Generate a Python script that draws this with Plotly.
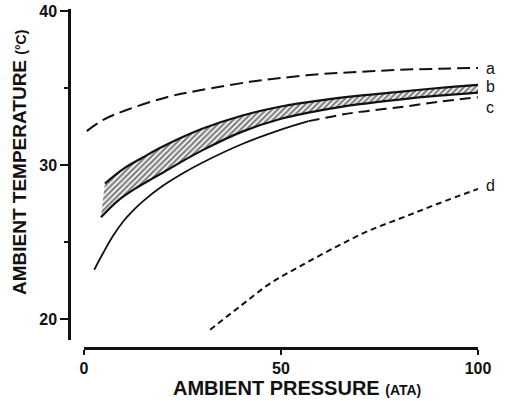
import plotly.graph_objects as go

# ---- data ----
a_p = [0.7, 5, 10.8, 21, 29.4, 42.1, 50, 60, 70, 80, 90, 100]
a_T = [32.2, 32.95, 33.57, 34.4, 34.85, 35.4, 35.65, 35.9, 36.05, 36.18, 36.25, 36.3]

b_top_p = [5.3, 10, 15, 20, 30, 40, 50, 60, 70, 80, 90, 100]
b_top_T = [28.8, 29.75, 30.5, 31.2, 32.35, 33.2, 33.8, 34.2, 34.5, 34.75, 35.0, 35.2]
b_bot_p = [4.3, 8.7, 12.9, 17.2, 20, 25, 30, 40, 50, 60, 70, 80, 90, 100]
b_bot_T = [26.6, 27.7, 28.45, 29.1, 29.5, 30.25, 30.95, 32.15, 33.0, 33.55, 33.95, 34.25, 34.5, 34.7]

c_solid_p = [2.6, 5, 7.5, 10, 12.5, 15, 20, 25, 30, 40, 50, 57]
c_solid_T = [23.2, 24.35, 25.45, 26.35, 27.05, 27.65, 28.65, 29.45, 30.15, 31.35, 32.3, 32.85]
c_dash_p = [57, 65, 70, 80, 90, 100]
c_dash_T = [32.85, 33.25, 33.45, 33.75, 34.1, 34.4]

d_p = [32, 40, 47.2, 55, 64.1, 72, 81, 90, 100]
d_T = [19.3, 20.9, 22.3, 23.45, 24.7, 25.7, 26.6, 27.5, 28.45]

x_ticks = [0, 50, 100]
y_ticks = [20, 30, 40]
y_minor = [25, 35]
curve_labels = ["a", "b", "c", "d"]

W, H = 506, 401
INK = "#111111"
FONT = "Liberation Sans"

fig = go.Figure()

# hatched band (b)
band_x = b_top_p + b_bot_p[::-1]
band_y = b_top_T + b_bot_T[::-1]
fig.add_trace(go.Scatter(
    x=band_x, y=band_y, mode="lines", fill="toself",
    line=dict(width=0, color="rgba(0,0,0,0)", shape="spline", smoothing=0.6),
    fillcolor="rgba(0,0,0,0)",
    fillpattern=dict(shape="/", size=4, solidity=0.55, fgcolor="#000000", bgcolor="white"),
    hoverinfo="skip"))
fig.add_trace(go.Scatter(x=b_top_p, y=b_top_T, mode="lines",
                         line=dict(color=INK, width=2.2, shape="spline"), hoverinfo="skip"))
fig.add_trace(go.Scatter(x=b_bot_p, y=b_bot_T, mode="lines",
                         line=dict(color=INK, width=2.2, shape="spline"), hoverinfo="skip"))

# a
fig.add_trace(go.Scatter(x=a_p, y=a_T, mode="lines",
                         line=dict(color=INK, width=2, dash="13px,6px", shape="spline"),
                         hoverinfo="skip"))
# c
fig.add_trace(go.Scatter(x=c_solid_p, y=c_solid_T, mode="lines",
                         line=dict(color=INK, width=1.8, shape="spline"), hoverinfo="skip"))
fig.add_trace(go.Scatter(x=c_dash_p, y=c_dash_T, mode="lines",
                         line=dict(color=INK, width=2, dash="11px,6px", shape="spline"),
                         hoverinfo="skip"))
# d
fig.add_trace(go.Scatter(x=d_p, y=d_T, mode="lines",
                         line=dict(color=INK, width=2, dash="6px,4px", shape="spline"),
                         hoverinfo="skip"))

# curve labels
label_y = [a_T[-1], (b_top_T[-1] + b_bot_T[-1]) / 2, c_dash_T[-1], d_T[-1]]
label_shift = [-1, 2, -10, 3]
for lab, yv, ys in zip(curve_labels, label_y, label_shift):
    fig.add_annotation(x=100, y=yv, xref="x", yref="y", text=lab, showarrow=False,
                       xanchor="left", yanchor="middle", xshift=6, yshift=ys,
                       font=dict(family=FONT, size=16, color=INK))

# axis titles
fig.add_annotation(x=297 / W, y=1 - 388 / H, xref="paper", yref="paper",
                   text="<b>AMBIENT PRESSURE</b> <b><span style='font-size:14px'>(ATA)</span></b>",
                   showarrow=False, xanchor="center", yanchor="middle",
                   font=dict(family=FONT, size=20, color=INK))
fig.add_annotation(x=19 / W, y=1 - 163 / H, xref="paper", yref="paper",
                   text="<b>AMBIENT TEMPERATURE</b> <b><span style='font-size:14px'>(°C)</span></b>",
                   showarrow=False, xanchor="center", yanchor="middle", textangle=-90,
                   font=dict(family=FONT, size=19, color=INK))

fig.update_layout(
    width=W, height=H, autosize=False,
    margin=dict(l=0, r=0, t=0, b=0, pad=0, autoexpand=False),
    paper_bgcolor="white", plot_bgcolor="white", showlegend=False, hovermode=False,
    xaxis=dict(domain=[84 / W, 478 / W], range=[0, 100], anchor="free",
               position=1 - 348 / H, showline=True, linecolor=INK, linewidth=2.5,
               ticks="outside", ticklen=5, tickwidth=2, tickcolor=INK,
               tickvals=x_ticks, ticktext=["<b>%d</b>" % v for v in x_ticks],
               showgrid=False, zeroline=False, automargin=False,
               tickfont=dict(family=FONT, size=16, color=INK)),
    yaxis=dict(domain=[1 - 340 / H, 1 - 9 / H], range=[40 - 329 / 15.4, 40 + 2 / 15.4],
               anchor="free", position=69 / W, showline=True, linecolor=INK, linewidth=2.5,
               ticks="outside", ticklen=8, tickwidth=2, tickcolor=INK,
               tickvals=y_ticks, ticktext=["<b>%d</b>" % v for v in y_ticks],
               minor=dict(tickvals=y_minor, ticks="outside", ticklen=4, tickwidth=2, tickcolor=INK),
               showgrid=False, zeroline=False, automargin=False,
               tickfont=dict(family=FONT, size=16, color=INK)),
)

fig.write_html("out.html")
